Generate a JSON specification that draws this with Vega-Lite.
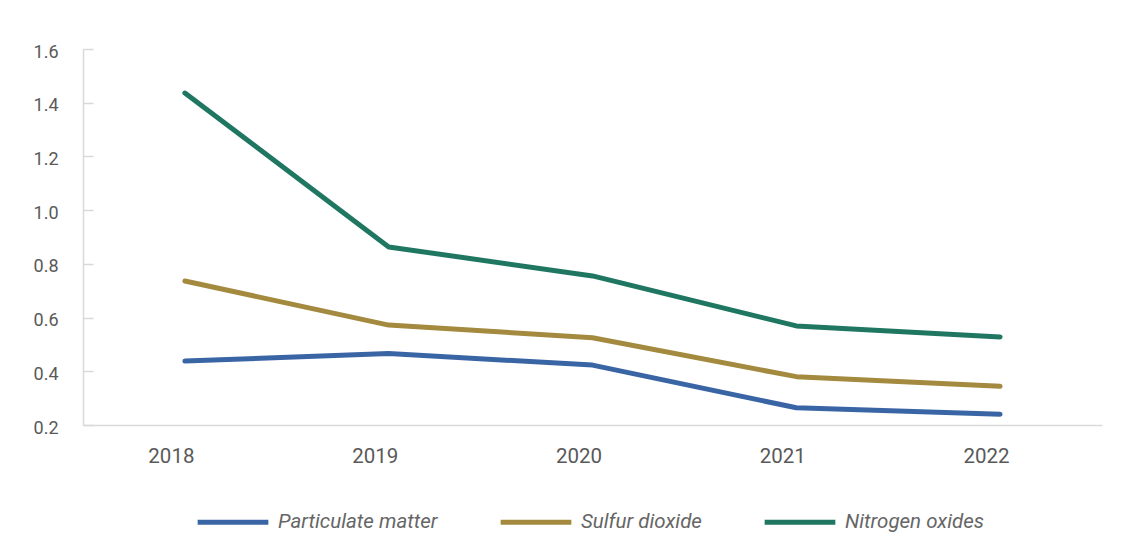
{
  "$schema": "https://vega.github.io/schema/vega-lite/v6.json",
  "autosize": "none",
  "padding": {"left": 83, "top": 49, "right": 29, "bottom": 133},
  "width": 1019,
  "height": 376,
  "background": "white",
  "config": {
    "view": {"stroke": null},
    "font": "Roboto",
    "axis": {
      "domainColor": "#D9D9D9",
      "domainWidth": 1.5,
      "tickColor": "#D9D9D9",
      "tickWidth": 1.5,
      "labelColor": "#595959",
      "labelFont": "Roboto",
      "grid": false,
      "title": null
    }
  },
  "data": {
    "values": [
      {"year": "2018", "series": "Particulate matter", "value": 0.438},
      {"year": "2019", "series": "Particulate matter", "value": 0.466},
      {"year": "2020", "series": "Particulate matter", "value": 0.423},
      {"year": "2021", "series": "Particulate matter", "value": 0.264},
      {"year": "2022", "series": "Particulate matter", "value": 0.240},
      {"year": "2018", "series": "Sulfur dioxide", "value": 0.736},
      {"year": "2019", "series": "Sulfur dioxide", "value": 0.572},
      {"year": "2020", "series": "Sulfur dioxide", "value": 0.525},
      {"year": "2021", "series": "Sulfur dioxide", "value": 0.380},
      {"year": "2022", "series": "Sulfur dioxide", "value": 0.344},
      {"year": "2018", "series": "Nitrogen oxides", "value": 1.436},
      {"year": "2019", "series": "Nitrogen oxides", "value": 0.863},
      {"year": "2020", "series": "Nitrogen oxides", "value": 0.755},
      {"year": "2021", "series": "Nitrogen oxides", "value": 0.569},
      {"year": "2022", "series": "Nitrogen oxides", "value": 0.528}
    ]
  },
  "mark": {"type": "line", "strokeWidth": 5, "strokeCap": "round", "strokeJoin": "round"},
  "encoding": {
    "x": {
      "field": "year",
      "type": "ordinal",
      "scale": {"type": "point", "padding": 0.5},
      "axis": {"ticks": false, "labelAngle": 0, "labelFontSize": 20.5, "labelPadding": 21, "labelOffset": -14}
    },
    "y": {
      "field": "value",
      "type": "quantitative",
      "scale": {"domain": [0.2, 1.6], "nice": false, "zero": false},
      "axis": {
        "values": [0.2, 0.4, 0.6, 0.8, 1.0, 1.2, 1.4, 1.6],
        "format": ".1f",
        "tickSize": -10,
        "labelFontSize": 18,
        "labelPadding": 35,
        "labelOffset": 3
      }
    },
    "color": {
      "field": "series",
      "type": "nominal",
      "sort": ["Particulate matter", "Sulfur dioxide", "Nitrogen oxides"],
      "scale": {
        "domain": ["Particulate matter", "Sulfur dioxide", "Nitrogen oxides"],
        "range": ["#3A65A5", "#A38A3F", "#1F7762"]
      },
      "legend": {
        "title": null,
        "orient": "none",
        "direction": "horizontal",
        "legendX": 112,
        "legendY": 435,
        "symbolType": "stroke",
        "symbolSize": 5000,
        "symbolStrokeWidth": 5,
        "labelFontSize": 20.5,
        "labelFontStyle": "italic",
        "labelColor": "#666666",
        "labelOffset": 7,
        "labelLimit": 300,
        "columnPadding": 52
      }
    }
  }
}
